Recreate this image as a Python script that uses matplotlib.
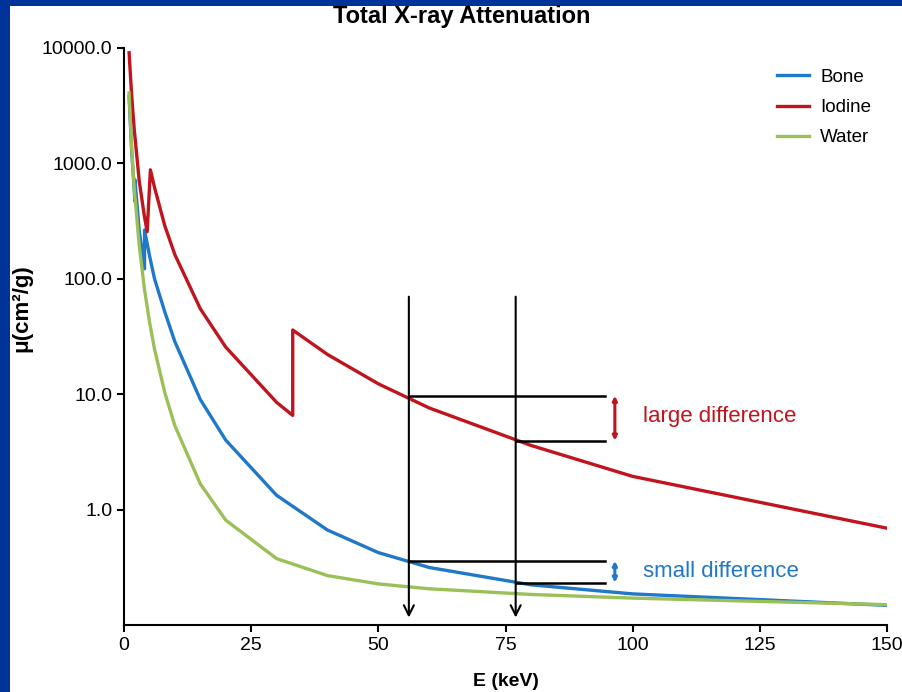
import matplotlib
matplotlib.use("Agg")
import matplotlib.pyplot as plt
from matplotlib.patches import Rectangle

plt.rcParams['font.family'] = ['Liberation Sans', 'DejaVu Sans']

# Mass attenuation data
bone_e = [1, 1.5, 2, 2.145, 2.145, 3, 4, 4.038, 4.038, 5, 6, 8, 10, 15, 20, 30, 40, 50, 60, 80, 100, 150]
bone_mu = [3800, 1300, 600, 470, 720, 260, 125, 122, 265, 160, 100, 52, 28.5, 9.0, 4.0, 1.33, 0.665, 0.424, 0.315, 0.223, 0.186, 0.148]

iodine_e = [1, 1.5, 2, 3, 4, 4.557, 5.188, 6, 8, 10, 15, 20, 30, 33.17, 33.17, 40, 50, 60, 80, 100, 150]
iodine_mu = [9100, 3900, 2000, 700, 350, 256, 880, 620, 290, 162, 55, 25.6, 8.5, 6.55, 36, 22.1, 12.3, 7.6, 3.6, 1.94, 0.69]

water_e = [1, 1.5, 2, 3, 4, 5, 6, 8, 10, 15, 20, 30, 40, 50, 60, 80, 100, 150]
water_mu = [4078, 1376, 617, 193, 82.8, 42.6, 24.6, 10.4, 5.33, 1.67, 0.81, 0.376, 0.268, 0.227, 0.206, 0.184, 0.171, 0.150]

# two energies compared and the levels read at them
e_low, e_high = 56, 77
iodine_levels = [9.7, 3.96]
bone_levels = [0.36, 0.233]

bone_c = '#1F78C8'
iodine_c = '#C0141E'
water_c = '#9BC057'

fig = plt.figure(figsize=(9.02, 6.92), dpi=100, facecolor='#00339A')
fig.add_artist(Rectangle((10 / 902, 0), 1, 686 / 692, transform=fig.transFigure,
                         facecolor='white', edgecolor='none', zorder=0))
ax = fig.add_axes([124 / 902, 67 / 692, 763 / 902, 577 / 692])
ax.set_facecolor('none')

ax.plot(bone_e, bone_mu, color=bone_c, lw=2.4, label='Bone')
ax.plot(iodine_e, iodine_mu, color=iodine_c, lw=2.4, label='Iodine')
ax.plot(water_e, water_mu, color=water_c, lw=2.4, label='Water')

ax.set_yscale('log')
ax.set_xlim(0, 150)
ax.set_ylim(0.1, 10000)
ax.set_yticks([1, 10, 100, 1000, 10000])
ax.set_yticklabels(['1.0', '10.0', '100.0', '1000.0', '10000.0'])
ax.yaxis.set_minor_locator(matplotlib.ticker.NullLocator())
ax.set_xticks([0, 25, 50, 75, 100, 125, 150])
ax.tick_params(labelsize=14, width=1.5, length=5, direction='out')
for s in ['top', 'right']:
    ax.spines[s].set_visible(False)
for s in ['left', 'bottom']:
    ax.spines[s].set_linewidth(1.5)

# vertical arrows at the two energies
for e in [e_low, e_high]:
    ax.annotate('', xy=(e, 0.116), xytext=(e, 70),
                arrowprops=dict(arrowstyle='->', color='black', lw=1.5, mutation_scale=18,
                                shrinkA=0, shrinkB=0))

# horizontal reference lines
x_end = 94.6
ax.plot([e_low, x_end], [iodine_levels[0]] * 2, color='black', lw=1.8)
ax.plot([e_high, x_end], [iodine_levels[1]] * 2, color='black', lw=1.8)
ax.plot([e_low, x_end], [bone_levels[0]] * 2, color='black', lw=1.8)
ax.plot([e_high, x_end], [bone_levels[1]] * 2, color='black', lw=1.8)

ax.annotate('', xy=(96.5, iodine_levels[1]), xytext=(96.5, iodine_levels[0]),
            arrowprops=dict(arrowstyle='<|-|>', color=iodine_c, lw=2.2, mutation_scale=6,
                            shrinkA=0, shrinkB=0))
ax.annotate('', xy=(96.5, bone_levels[1]), xytext=(96.5, bone_levels[0]),
            arrowprops=dict(arrowstyle='<|-|>', color=bone_c, lw=2.2, mutation_scale=6,
                            shrinkA=0, shrinkB=0))
ax.text(102, 6.4, 'large difference', color=iodine_c, fontsize=16, va='center')
ax.text(102, 0.29, 'small difference', color=bone_c, fontsize=16, va='center')

ax.legend(loc='upper left', bbox_to_anchor=(760 / 902, 1 - 52 / 692),
          bbox_transform=fig.transFigure, frameon=False, fontsize=13.5,
          handlelength=1.7, handletextpad=0.6, labelspacing=0.7)

fig.text(462 / 902, 1 - 17 / 692, 'Total X-ray Attenuation', ha='center', va='center',
         fontsize=17, fontweight='bold')
ax.set_xlabel('E (keV)', fontsize=14, fontweight='bold', labelpad=14)
ax.set_ylabel('μ(cm²/g)', fontsize=16, fontweight='bold')
ax.yaxis.set_label_coords(-0.12, 0.55)

fig.savefig('out.png', dpi=100, facecolor=fig.get_facecolor())
